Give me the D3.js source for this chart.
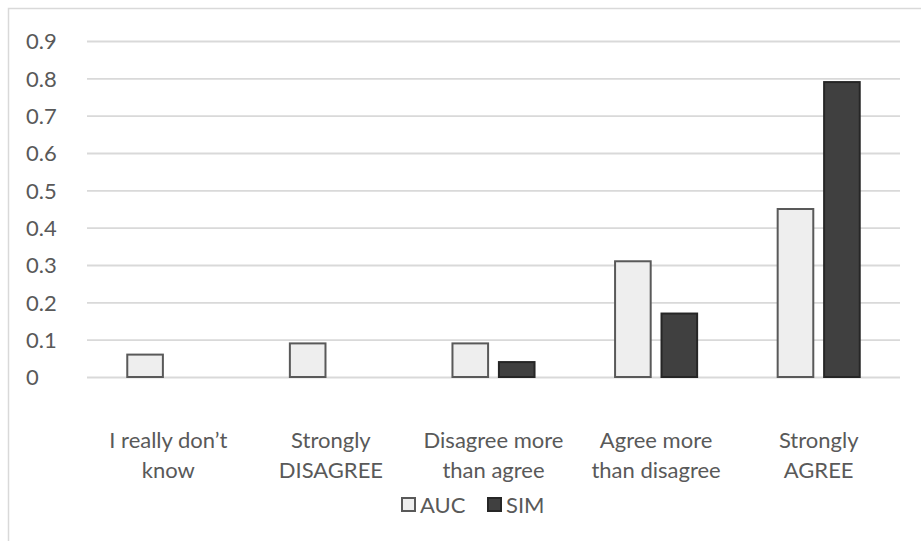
<!DOCTYPE html>
<html>
<head>
<meta charset="utf-8">
<script src="https://cdn.jsdelivr.net/npm/d3@7"></script>
<style>
  html, body { margin: 0; padding: 0; background: #fff; }
  svg text { font-family: Lato, "Open Sans", sans-serif; fill: #595959; }
</style>
</head>
<body>
<svg id="chart" width="921" height="541"></svg>
<script>
// Response categories (x axis), each split over two text lines
const categories = [
  ["I really don\u2019t", "know"],
  ["Strongly", "DISAGREE"],
  ["Disagree more", "than agree"],
  ["Agree more", "than disagree"],
  ["Strongly", "AGREE"]
];
const seriesNames = ["AUC", "SIM"];
const aucValues = [0.06, 0.09, 0.09, 0.31, 0.45];
const simValues = [0, 0, 0.04, 0.17, 0.79];
const yTicks = [0, 0.1, 0.2, 0.3, 0.4, 0.5, 0.6, 0.7, 0.8, 0.9];

const fills = { AUC: "#eeeeee", SIM: "#404040" };
const strokes = { AUC: "#595959", SIM: "#262626" };

const svg = d3.select("#chart");
const W = 921, H = 541;
const margin = { left: 87, right: 21, top: 41, bottom: 164 };
const plotW = W - margin.left - margin.right;
const plotH = H - margin.top - margin.bottom;

// Outer chart frame (top and left edges visible)
svg.append("path")
  .attr("d", `M8.5,${H} V8.5 H${W}`)
  .attr("fill", "none")
  .attr("stroke", "#d9d9d9")
  .attr("stroke-width", 1.5);

const g = svg.append("g").attr("transform", `translate(${margin.left},${margin.top})`);

const x0 = d3.scaleBand()
  .domain(d3.range(categories.length))
  .range([0, plotW])
  .paddingInner(0.483)
  .paddingOuter(0.2415);

const x1 = d3.scaleBand()
  .domain(seriesNames)
  .range([0, x0.bandwidth()])
  .paddingInner(0.19);

const y = d3.scaleLinear().domain([0, 0.9]).range([plotH, 0]);

// Horizontal gridlines with tick labels
const yAxis = d3.axisLeft(y)
  .tickValues(yTicks)
  .tickSize(-plotW)
  .tickFormat(d => d === 0 ? "0" : d3.format(".1f")(d));

const ya = g.append("g").call(yAxis);
ya.select(".domain").remove();
ya.selectAll(".tick line").attr("stroke", "#d9d9d9").attr("stroke-width", 1.8);
ya.selectAll(".tick text")
  .attr("x", -61)
  .attr("dy", "0.36em")
  .attr("text-anchor", "start")
  .style("font-size", "22px")
  .style("fill", "#595959");

// Bars
const rows = categories.map((c, i) => ({ i, AUC: aucValues[i], SIM: simValues[i] }));
const groups = g.selectAll(".grp").data(rows).join("g")
  .attr("class", "grp")
  .attr("transform", d => `translate(${x0(d.i)},0)`);

groups.selectAll("rect")
  .data(d => seriesNames.map(s => ({ s, v: d[s] })).filter(e => e.v > 0))
  .join("rect")
  .attr("x", e => x1(e.s) + 1)
  .attr("width", x1.bandwidth() - 2)
  .attr("y", e => y(e.v))
  .attr("height", e => y(0) - y(e.v))
  .attr("fill", e => fills[e.s])
  .attr("stroke", e => strokes[e.s])
  .attr("stroke-width", 2);

// Category labels
const xl = g.append("g").attr("transform", `translate(0,${plotH})`);
categories.forEach((lines, i) => {
  const t = xl.append("text")
    .attr("x", x0(i) + x0.bandwidth() / 2)
    .attr("y", 71)
    .attr("text-anchor", "middle")
    .style("font-size", "22px");
  lines.forEach((ln, k) => {
    t.append("tspan")
      .attr("x", x0(i) + x0.bandwidth() / 2)
      .attr("dy", k === 0 ? 0 : 30)
      .text(ln);
  });
});

// Legend
const legend = svg.append("g").attr("transform", "translate(401,497)");
const legendItems = [
  { s: "AUC", x: 0 },
  { s: "SIM", x: 86 }
];
legendItems.forEach(item => {
  legend.append("rect")
    .attr("x", item.x + 1)
    .attr("y", 1)
    .attr("width", 13)
    .attr("height", 13)
    .attr("fill", fills[item.s])
    .attr("stroke", strokes[item.s])
    .attr("stroke-width", 2);
  legend.append("text")
    .attr("x", item.x + 19)
    .attr("y", 16)
    .style("font-size", "22px")
    .text(item.s);
});
</script>
</body>
</html>
